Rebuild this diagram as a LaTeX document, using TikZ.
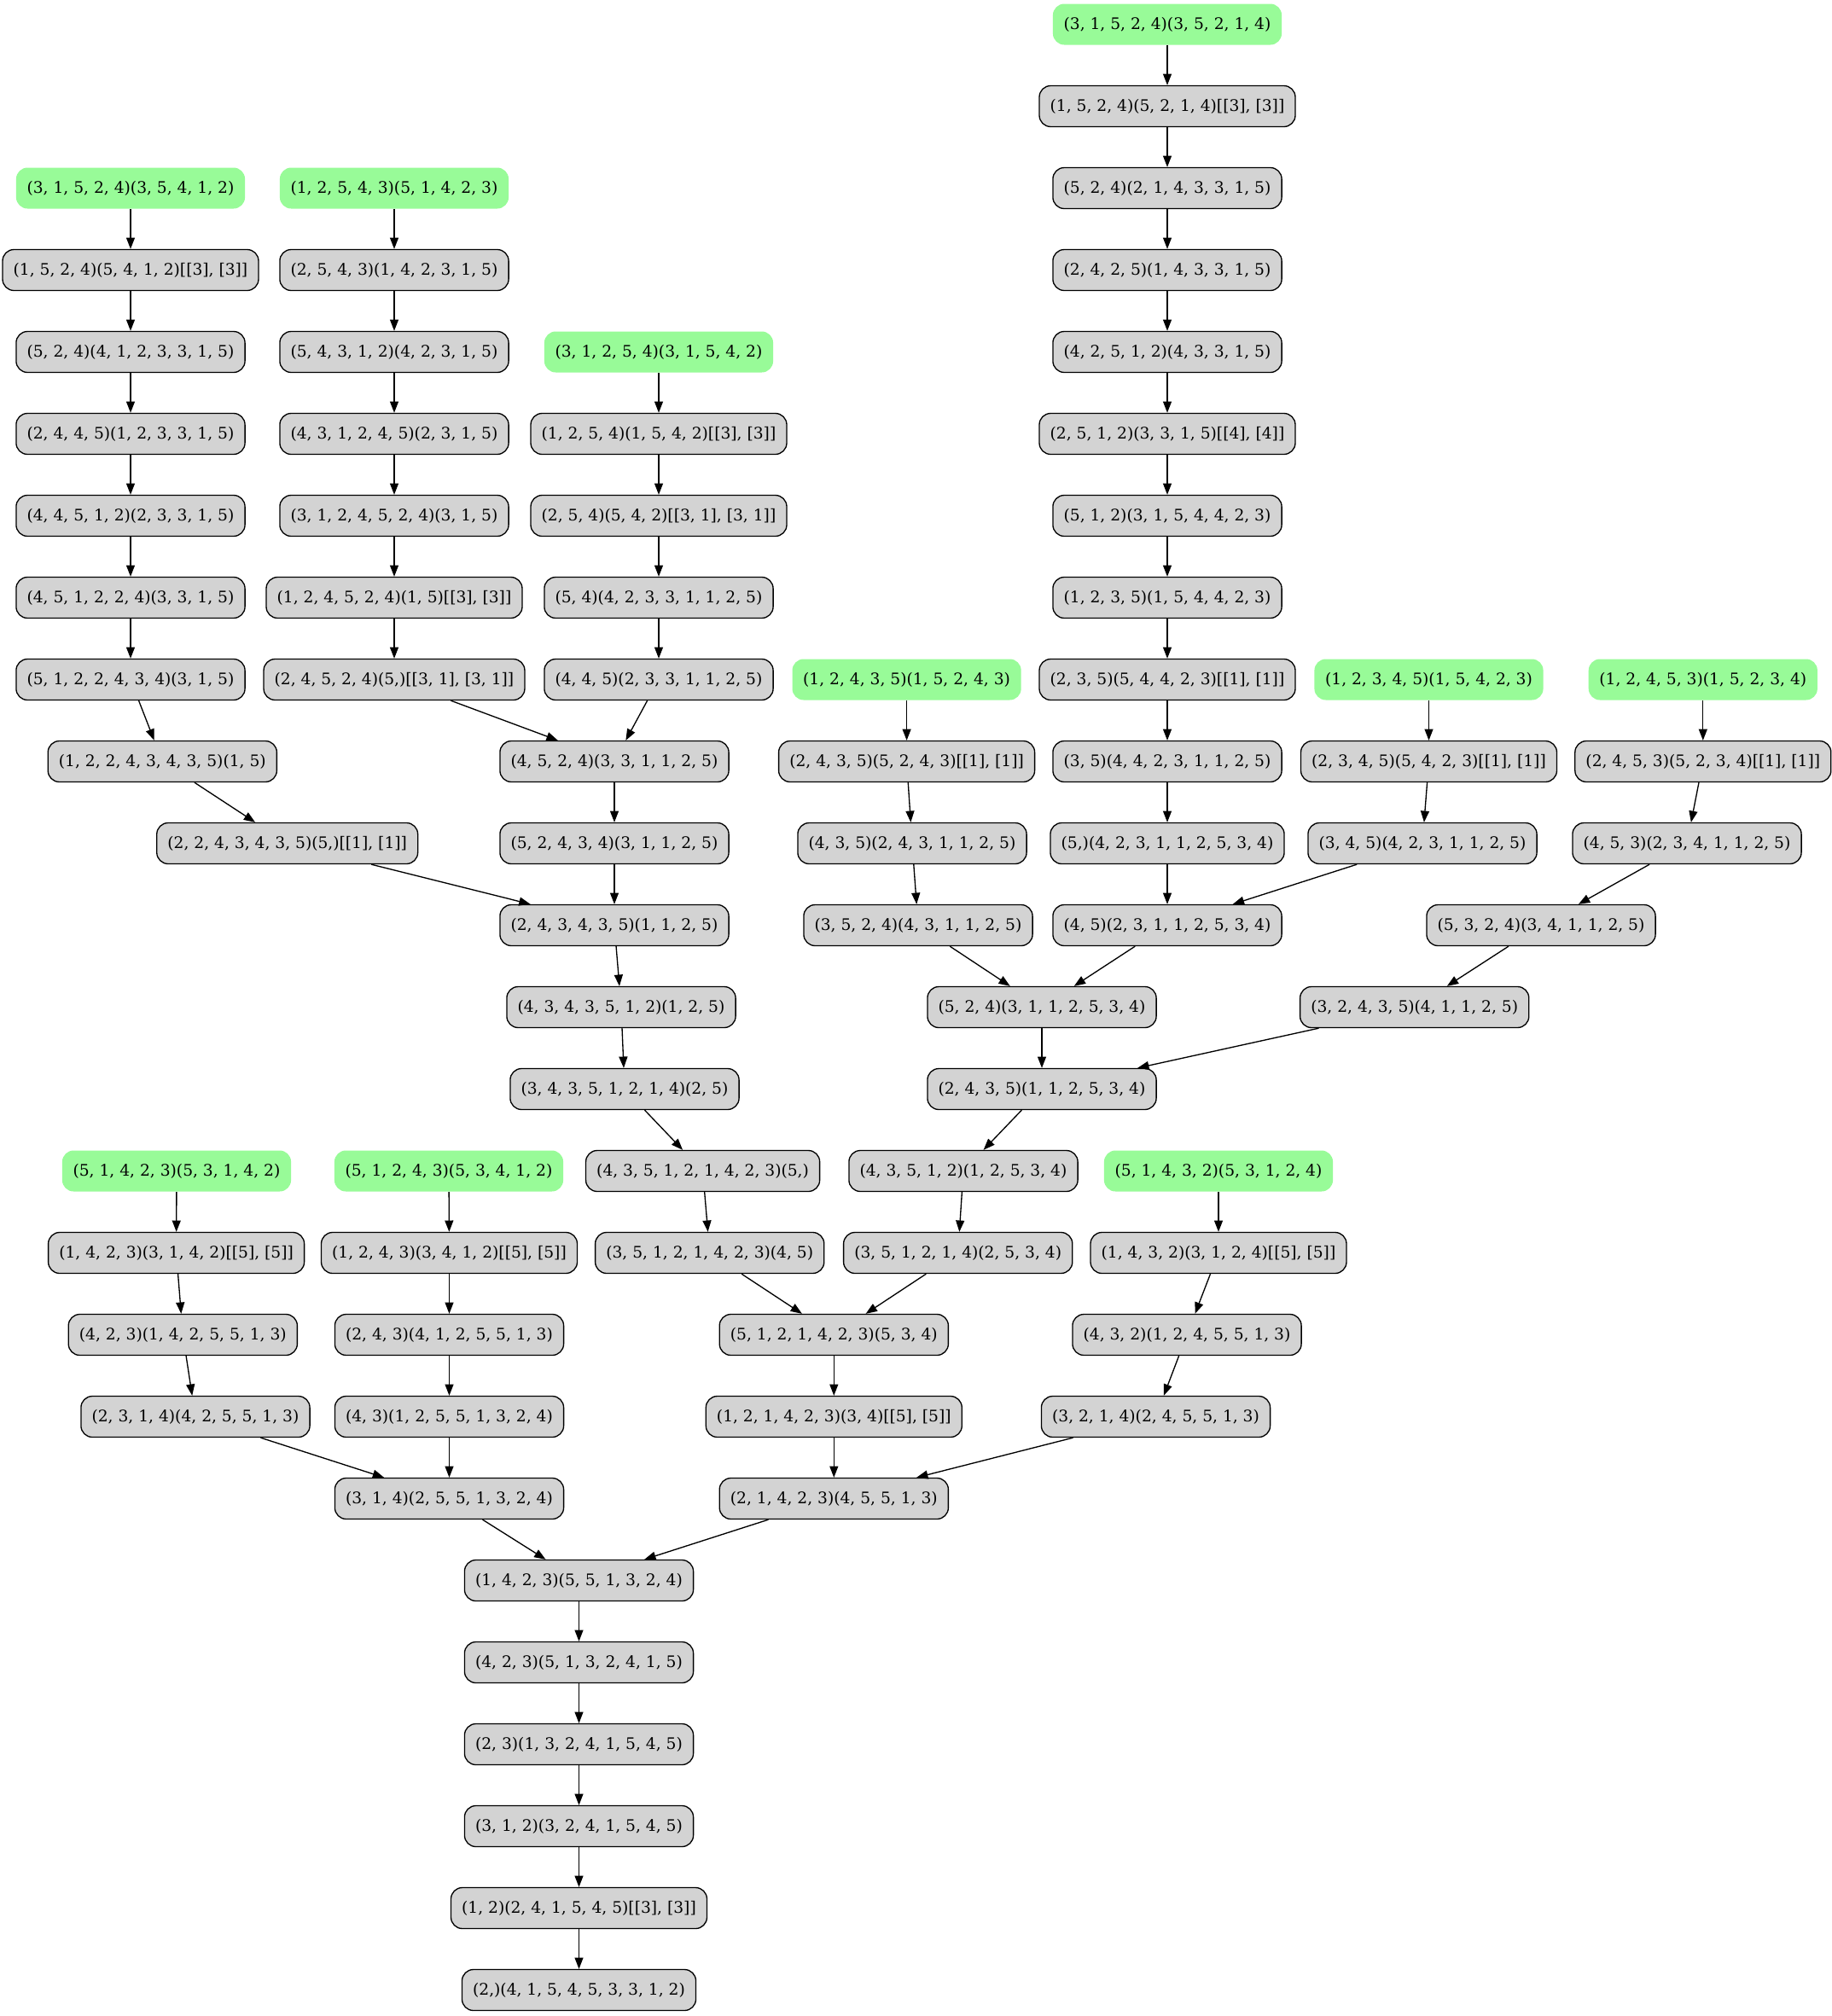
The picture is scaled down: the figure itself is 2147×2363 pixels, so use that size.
\documentclass[tikz,border=0pt]{standalone}
\usepackage{fontspec}
\setmainfont{DejaVu Serif}
\usetikzlibrary{arrows.meta}
\definecolor{gvgreen}{HTML}{98FB98}
\definecolor{gvgray}{HTML}{D3D3D3}
\begin{document}
\begin{tikzpicture}[x=0.75bp,y=-0.75bp,
 box/.style={rectangle, rounded corners=10bp, minimum height=36bp, inner xsep=9.5bp, inner ysep=0pt, font=\fontsize{14bp}{16bp}\selectfont, line width=1bp},
 gn/.style={box, fill=gvgreen},
 gy/.style={box, draw=black, fill=gvgray},
 edge/.style={-{Triangle[length=10bp,width=7.5bp]}, line width=1bp, draw=black}]
\useasboundingbox (0,0) rectangle (2147,2363);
% row 0
\node[gn] (n0) at (1368,28.5) {(3, 1, 5, 2, 4)(3, 5, 2, 1, 4)};
% row 1
\node[gy] (d1) at (1368,124.5) {(1, 5, 2, 4)(5, 2, 1, 4)[[3], [3]]};
% row 2
\node[gn] (a2) at (153,220.5) {(3, 1, 5, 2, 4)(3, 5, 4, 1, 2)};
\node[gn] (b2) at (462,220.5) {(1, 2, 5, 4, 3)(5, 1, 4, 2, 3)};
\node[gy] (d2) at (1368,220.5) {(5, 2, 4)(2, 1, 4, 3, 3, 1, 5)};
% row 3
\node[gy] (a3) at (153,316.5) {(1, 5, 2, 4)(5, 4, 1, 2)[[3], [3]]};
\node[gy] (b3) at (462,316.5) {(2, 5, 4, 3)(1, 4, 2, 3, 1, 5)};
\node[gy] (d3) at (1368,316.5) {(2, 4, 2, 5)(1, 4, 3, 3, 1, 5)};
% row 4
\node[gy] (a4) at (153,412.5) {(5, 2, 4)(4, 1, 2, 3, 3, 1, 5)};
\node[gy] (b4) at (462,412.5) {(5, 4, 3, 1, 2)(4, 2, 3, 1, 5)};
\node[gn] (c4) at (772,412.5) {(3, 1, 2, 5, 4)(3, 1, 5, 4, 2)};
\node[gy] (d4) at (1368,412.5) {(4, 2, 5, 1, 2)(4, 3, 3, 1, 5)};
% row 5
\node[gy] (a5) at (153,508.5) {(2, 4, 4, 5)(1, 2, 3, 3, 1, 5)};
\node[gy] (b5) at (462,508.5) {(4, 3, 1, 2, 4, 5)(2, 3, 1, 5)};
\node[gy] (c5) at (772,508.5) {(1, 2, 5, 4)(1, 5, 4, 2)[[3], [3]]};
\node[gy] (d5) at (1368,508.5) {(2, 5, 1, 2)(3, 3, 1, 5)[[4], [4]]};
% row 6
\node[gy] (a6) at (153,604.5) {(4, 4, 5, 1, 2)(2, 3, 3, 1, 5)};
\node[gy] (b6) at (462,604.5) {(3, 1, 2, 4, 5, 2, 4)(3, 1, 5)};
\node[gy] (c6) at (772,604.5) {(2, 5, 4)(5, 4, 2)[[3, 1], [3, 1]]};
\node[gy] (d6) at (1368,604.5) {(5, 1, 2)(3, 1, 5, 4, 4, 2, 3)};
% row 7
\node[gy] (a7) at (153,700.5) {(4, 5, 1, 2, 2, 4)(3, 3, 1, 5)};
\node[gy] (b7) at (462,700.5) {(1, 2, 4, 5, 2, 4)(1, 5)[[3], [3]]};
\node[gy] (c7) at (772,700.5) {(5, 4)(4, 2, 3, 3, 1, 1, 2, 5)};
\node[gy] (d7) at (1368,700.5) {(1, 2, 3, 5)(1, 5, 4, 4, 2, 3)};
% row 8
\node[gy] (a8) at (153,796.5) {(5, 1, 2, 2, 4, 3, 4)(3, 1, 5)};
\node[gy] (b8) at (462,796.5) {(2, 4, 5, 2, 4)(5,)[[3, 1], [3, 1]]};
\node[gy] (c8) at (772,796.5) {(4, 4, 5)(2, 3, 3, 1, 1, 2, 5)};
\node[gn] (e8) at (1062.6,796.5) {(1, 2, 4, 3, 5)(1, 5, 2, 4, 3)};
\node[gy] (d8) at (1368,796.5) {(2, 3, 5)(5, 4, 4, 2, 3)[[1], [1]]};
\node[gn] (f8) at (1674.5,796.5) {(1, 2, 3, 4, 5)(1, 5, 4, 2, 3)};
\node[gn] (g8) at (1995.8,796.5) {(1, 2, 4, 5, 3)(1, 5, 2, 3, 4)};
% row 9
\node[gy] (a9) at (190.3,892.5) {(1, 2, 2, 4, 3, 4, 3, 5)(1, 5)};
\node[gy] (m9) at (720,892.5) {(4, 5, 2, 4)(3, 3, 1, 1, 2, 5)};
\node[gy] (e9) at (1062.6,892.5) {(2, 4, 3, 5)(5, 2, 4, 3)[[1], [1]]};
\node[gy] (d9) at (1368,892.5) {(3, 5)(4, 4, 2, 3, 1, 1, 2, 5)};
\node[gy] (f9) at (1674.5,892.5) {(2, 3, 4, 5)(5, 4, 2, 3)[[1], [1]]};
\node[gy] (g9) at (1995.8,892.5) {(2, 4, 5, 3)(5, 2, 3, 4)[[1], [1]]};
% row 10
\node[gy] (a10) at (336.7,988.5) {(2, 2, 4, 3, 4, 3, 5)(5,)[[1], [1]]};
\node[gy] (m10) at (720,988.5) {(5, 2, 4, 3, 4)(3, 1, 1, 2, 5)};
\node[gy] (e10) at (1069,988.5) {(4, 3, 5)(2, 4, 3, 1, 1, 2, 5)};
\node[gy] (d10) at (1368,988.5) {(5,)(4, 2, 3, 1, 1, 2, 5, 3, 4)};
\node[gy] (f10) at (1667,988.5) {(3, 4, 5)(4, 2, 3, 1, 1, 2, 5)};
\node[gy] (g10) at (1977,988.5) {(4, 5, 3)(2, 3, 4, 1, 1, 2, 5)};
% row 11
\node[gy] (m11) at (720,1084.5) {(2, 4, 3, 4, 3, 5)(1, 1, 2, 5)};
\node[gy] (e11) at (1076,1084.5) {(3, 5, 2, 4)(4, 3, 1, 1, 2, 5)};
\node[gy] (d11) at (1368,1084.5) {(4, 5)(2, 3, 1, 1, 2, 5, 3, 4)};
\node[gy] (g11) at (1806,1084.5) {(5, 3, 2, 4)(3, 4, 1, 1, 2, 5)};
% row 12
\node[gy] (m12) at (728,1180.5) {(4, 3, 4, 3, 5, 1, 2)(1, 2, 5)};
\node[gy] (d12) at (1221,1180.5) {(5, 2, 4)(3, 1, 1, 2, 5, 3, 4)};
\node[gy] (g12) at (1657.7,1180.5) {(3, 2, 4, 3, 5)(4, 1, 1, 2, 5)};
% row 13
\node[gy] (m13) at (732,1276.5) {(3, 4, 3, 5, 1, 2, 1, 4)(2, 5)};
\node[gy] (d13) at (1221,1276.5) {(2, 4, 3, 5)(1, 1, 2, 5, 3, 4)};
% row 14
\node[gn] (h14) at (207,1372.5) {(5, 1, 4, 2, 3)(5, 3, 1, 4, 2)};
\node[gn] (i14) at (526,1372.5) {(5, 1, 2, 4, 3)(5, 3, 4, 1, 2)};
\node[gy] (m14) at (823.6,1372.5) {(4, 3, 5, 1, 2, 1, 4, 2, 3)(5,)};
\node[gy] (d14) at (1129,1372.5) {(4, 3, 5, 1, 2)(1, 2, 5, 3, 4)};
\node[gn] (j14) at (1428,1372.5) {(5, 1, 4, 3, 2)(5, 3, 1, 2, 4)};
% row 15
\node[gy] (h15) at (206.6,1468.5) {(1, 4, 2, 3)(3, 1, 4, 2)[[5], [5]]};
\node[gy] (i15) at (526.5,1468.5) {(1, 2, 4, 3)(3, 4, 1, 2)[[5], [5]]};
\node[gy] (m15) at (831.7,1468.5) {(3, 5, 1, 2, 1, 4, 2, 3)(4, 5)};
\node[gy] (d15) at (1122.7,1468.5) {(3, 5, 1, 2, 1, 4)(2, 5, 3, 4)};
\node[gy] (j15) at (1428,1468.5) {(1, 4, 3, 2)(3, 1, 2, 4)[[5], [5]]};
% row 16
\node[gy] (h16) at (214.3,1564.5) {(4, 2, 3)(1, 4, 2, 5, 5, 1, 3)};
\node[gy] (i16) at (526.5,1564.5) {(2, 4, 3)(4, 1, 2, 5, 5, 1, 3)};
\node[gy] (m16) at (977.3,1564.5) {(5, 1, 2, 1, 4, 2, 3)(5, 3, 4)};
\node[gy] (j16) at (1391,1564.5) {(4, 3, 2)(1, 2, 4, 5, 5, 1, 3)};
% row 17
\node[gy] (h17) at (229,1660.5) {(2, 3, 1, 4)(4, 2, 5, 5, 1, 3)};
\node[gy] (i17) at (526.5,1660.5) {(4, 3)(1, 2, 5, 5, 1, 3, 2, 4)};
\node[gy] (m17) at (977.3,1660.5) {(1, 2, 1, 4, 2, 3)(3, 4)[[5], [5]]};
\node[gy] (j17) at (1354.5,1660.5) {(3, 2, 1, 4)(2, 4, 5, 5, 1, 3)};
% row 18
\node[gy] (i18) at (526.5,1756.5) {(3, 1, 4)(2, 5, 5, 1, 3, 2, 4)};
\node[gy] (m18) at (977.3,1756.5) {(2, 1, 4, 2, 3)(4, 5, 5, 1, 3)};
% rows 19-24
\node[gy] (z19) at (678.5,1852.5) {(1, 4, 2, 3)(5, 5, 1, 3, 2, 4)};
\node[gy] (z20) at (678.5,1948.5) {(4, 2, 3)(5, 1, 3, 2, 4, 1, 5)};
\node[gy] (z21) at (678.5,2044.5) {(2, 3)(1, 3, 2, 4, 1, 5, 4, 5)};
\node[gy] (z22) at (678.5,2140.5) {(3, 1, 2)(3, 2, 4, 1, 5, 4, 5)};
\node[gy] (z23) at (678.5,2236.5) {(1, 2)(2, 4, 1, 5, 4, 5)[[3], [3]]};
\node[gy] (z24) at (678.5,2332.5) {(2,)(4, 1, 5, 4, 5, 3, 3, 1, 2)};
% edges
\draw[edge] (n0) -- (d1);
\draw[edge] (d1) -- (d2);
\draw[edge] (d2) -- (d3);
\draw[edge] (d3) -- (d4);
\draw[edge] (d4) -- (d5);
\draw[edge] (d5) -- (d6);
\draw[edge] (d6) -- (d7);
\draw[edge] (d7) -- (d8);
\draw[edge] (d8) -- (d9);
\draw[edge] (d9) -- (d10);
\draw[edge] (d10) -- (d11);
\draw[edge] (d11) -- (d12);
\draw[edge] (d12) -- (d13);
\draw[edge] (d13) -- (d14);
\draw[edge] (d14) -- (d15);
\draw[edge] (d15) -- (m16);
\draw[edge] (f8) -- (f9);
\draw[edge] (f9) -- (f10);
\draw[edge] (f10) -- (d11);
\draw[edge] (e8) -- (e9);
\draw[edge] (e9) -- (e10);
\draw[edge] (e10) -- (e11);
\draw[edge] (e11) -- (d12);
\draw[edge] (g8) -- (g9);
\draw[edge] (g9) -- (g10);
\draw[edge] (g10) -- (g11);
\draw[edge] (g11) -- (g12);
\draw[edge] (g12) -- (d13);
\draw[edge] (a2) -- (a3);
\draw[edge] (a3) -- (a4);
\draw[edge] (a4) -- (a5);
\draw[edge] (a5) -- (a6);
\draw[edge] (a6) -- (a7);
\draw[edge] (a7) -- (a8);
\draw[edge] (a8) -- (a9);
\draw[edge] (a9) -- (a10);
\draw[edge] (a10) -- (m11);
\draw[edge] (b2) -- (b3);
\draw[edge] (b3) -- (b4);
\draw[edge] (b4) -- (b5);
\draw[edge] (b5) -- (b6);
\draw[edge] (b6) -- (b7);
\draw[edge] (b7) -- (b8);
\draw[edge] (b8) -- (m9);
\draw[edge] (c4) -- (c5);
\draw[edge] (c5) -- (c6);
\draw[edge] (c6) -- (c7);
\draw[edge] (c7) -- (c8);
\draw[edge] (c8) -- (m9);
\draw[edge] (m9) -- (m10);
\draw[edge] (m10) -- (m11);
\draw[edge] (m11) -- (m12);
\draw[edge] (m12) -- (m13);
\draw[edge] (m13) -- (m14);
\draw[edge] (m14) -- (m15);
\draw[edge] (m15) -- (m16);
\draw[edge] (m16) -- (m17);
\draw[edge] (m17) -- (m18);
\draw[edge] (j14) -- (j15);
\draw[edge] (j15) -- (j16);
\draw[edge] (j16) -- (j17);
\draw[edge] (j17) -- (m18);
\draw[edge] (m18) -- (z19);
\draw[edge] (h14) -- (h15);
\draw[edge] (h15) -- (h16);
\draw[edge] (h16) -- (h17);
\draw[edge] (h17) -- (i18);
\draw[edge] (i14) -- (i15);
\draw[edge] (i15) -- (i16);
\draw[edge] (i16) -- (i17);
\draw[edge] (i17) -- (i18);
\draw[edge] (i18) -- (z19);
\draw[edge] (z19) -- (z20);
\draw[edge] (z20) -- (z21);
\draw[edge] (z21) -- (z22);
\draw[edge] (z22) -- (z23);
\draw[edge] (z23) -- (z24);
\end{tikzpicture}
\end{document}
